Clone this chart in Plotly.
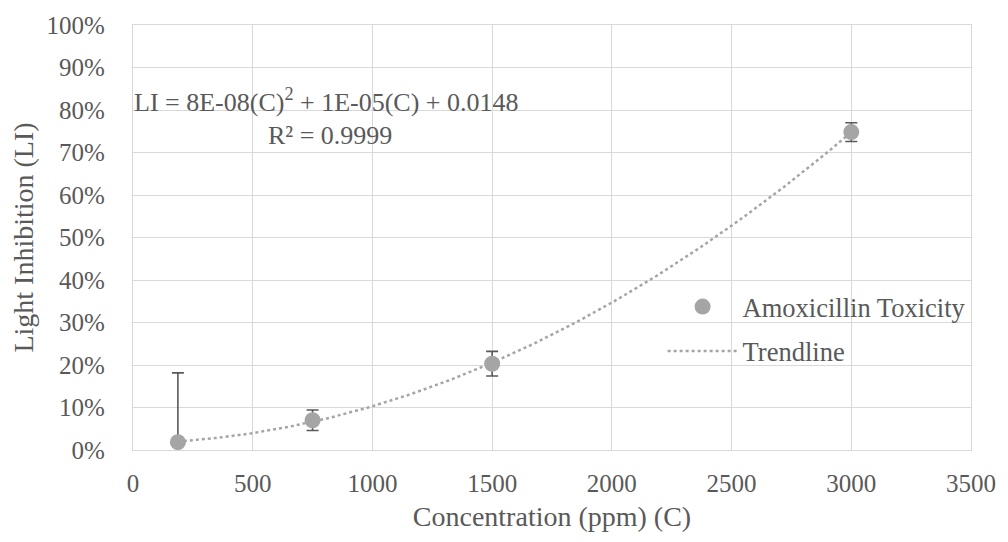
import numpy as np
import plotly.graph_objects as go

# Measured amoxicillin toxicity (light inhibition vs concentration)
concentration_ppm = [187.5, 750, 1500, 3000]
light_inhibition = [0.0185, 0.070, 0.203, 0.748]
inhibition_error = [0.163, 0.024, 0.029, 0.022]

x_ticks = [0, 500, 1000, 1500, 2000, 2500, 3000, 3500]

# Second-order polynomial trendline fitted to the measurements
coeffs = np.polyfit(concentration_ppm, light_inhibition, 2)
trend_x = np.linspace(min(concentration_ppm), max(concentration_ppm), 200)
trend_y = np.polyval(coeffs, trend_x)

FONT = "Liberation Serif, Times New Roman, serif"
TEXT = "#595959"
GRID = "#D9D9D9"
MARK = "#A5A5A5"

fig = go.Figure()

fig.add_trace(go.Scatter(
    x=concentration_ppm, y=light_inhibition,
    mode="markers", name="Amoxicillin Toxicity", legendgroup="data",
    marker=dict(color=MARK, size=16),
    error_y=dict(type="data", array=inhibition_error, visible=True,
                 color=TEXT, thickness=1.6, width=6),
))

fig.add_trace(go.Scatter(
    x=trend_x, y=trend_y, mode="lines", name="Trendline", legendgroup="trend",
    line=dict(color=MARK, width=2.5, dash="dot"),
))

fig.add_annotation(
    x=-0.001, y=0.822, xref="paper", yref="paper", xanchor="left", yanchor="middle",
    text="LI = 8E-08(C)<sup>2</sup> + 1E-05(C) + 0.0148", showarrow=False,
    font=dict(family=FONT, size=26, color=TEXT),
)
fig.add_annotation(
    x=0.235, y=0.741, xref="paper", yref="paper", xanchor="center", yanchor="middle",
    text="R² = 0.9999", showarrow=False,
    font=dict(family=FONT, size=26, color=TEXT),
)

fig.update_layout(
    width=1008, height=542,
    margin=dict(l=133, r=32, t=18, b=92),
    paper_bgcolor="white", plot_bgcolor="white",
    font=dict(family=FONT, size=25, color=TEXT),
    showlegend=True,
    legend=dict(x=0.632, y=0.285, xanchor="left", yanchor="middle",
                bgcolor="rgba(0,0,0,0)", font=dict(family=FONT, size=26.5, color=TEXT),
                itemwidth=70, tracegroupgap=7, traceorder="grouped"),
    xaxis=dict(
        range=[0, 3500], tickvals=x_ticks, ticktext=[str(v) for v in x_ticks],
        showgrid=True, gridcolor=GRID, gridwidth=1.3,
        showline=True, linecolor=GRID, linewidth=1.3, mirror=True,
        zeroline=False, ticks="", ticklabelstandoff=11,
        title=dict(text="Concentration (ppm) (C)", standoff=10,
                   font=dict(family=FONT, size=28, color=TEXT)),
        tickfont=dict(family=FONT, size=25, color=TEXT),
    ),
    yaxis=dict(
        range=[0, 1], dtick=0.1, tickformat=".0%",
        showgrid=True, gridcolor=GRID, gridwidth=1.3,
        showline=True, linecolor=GRID, linewidth=1.3, mirror=True,
        zeroline=False, ticks="", ticklabelstandoff=22,
        title=dict(text="Light Inhibition (LI)", standoff=4,
                   font=dict(family=FONT, size=28, color=TEXT)),
        tickfont=dict(family=FONT, size=25, color=TEXT),
    ),
)

fig.write_html("out.html")
